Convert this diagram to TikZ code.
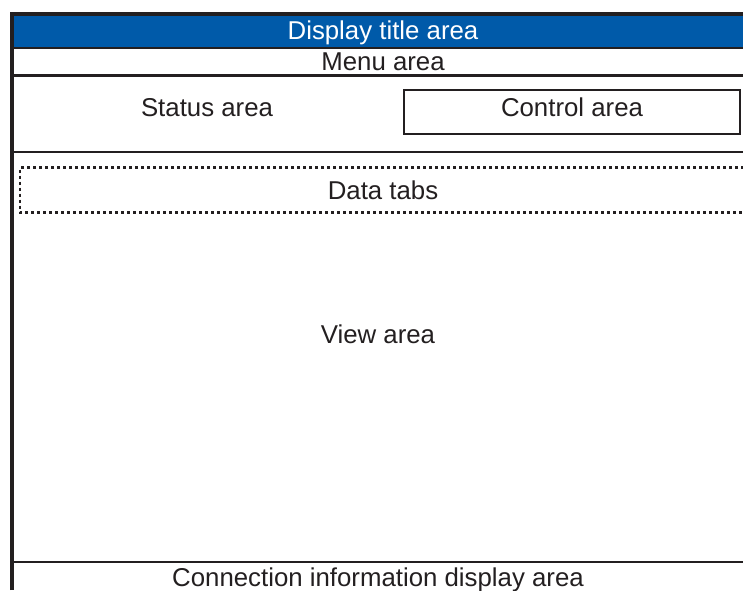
\documentclass[tikz,border=0pt]{standalone}
\usepackage{fontspec}
\setmainfont{Liberation Sans}
\definecolor{ink}{HTML}{231F20}
\definecolor{titleblue}{HTML}{005AA9}
\begin{document}
\begin{tikzpicture}[x=1pt,y=-1pt,
  lbl/.style={font=\fontsize{25.8}{30}\selectfont, text=ink, inner sep=0pt, anchor=base},
  sep/.style={draw=ink, line width=2.6pt},
  frame/.style={draw=ink, line width=3.5pt}]
\useasboundingbox (0,0) rectangle (743,590);
% title bar
\fill[titleblue] (12,14) rectangle (743,48);
\draw[frame] (12,590) -- (12,14) -- (743,14);
\coordinate (L48) at (12,48);   \coordinate (R48) at (743,48);
\coordinate (L75) at (12,75.5); \coordinate (R75) at (743,75.5);
\coordinate (L152) at (12,152); \coordinate (R152) at (743,152);
\coordinate (L562) at (12,562); \coordinate (R562) at (743,562);
\draw[sep] (L48) -- (R48);
\draw[sep] (L75) -- (R75);
\draw[sep] (L152) -- (R152);
\draw[sep] (L562) -- (R562);
% control box
\draw[draw=ink, line width=2pt] (403.5,89.5) rectangle (739.5,133.5);
% data tabs dashed box
\draw[draw=ink, line width=2.2pt, dash pattern=on 3pt off 3pt] (750,167.5) -- (20,167.5) -- (20,212.5) -- (750,212.5);
% texts
\node[lbl, text=white] (title) at (383,39) {Display title area};
\node[lbl] (menu) at (383,70) {Menu area};
\node[lbl] (status) at (207,116) {Status area};
\node[lbl] (control) at (572,116) {Control area};
\node[lbl] (tabs) at (383,199) {Data tabs};
\node[lbl] (view) at (378,343) {View area};
\node[lbl] (conn) at (378,586) {Connection information display area};
\end{tikzpicture}
\end{document}
